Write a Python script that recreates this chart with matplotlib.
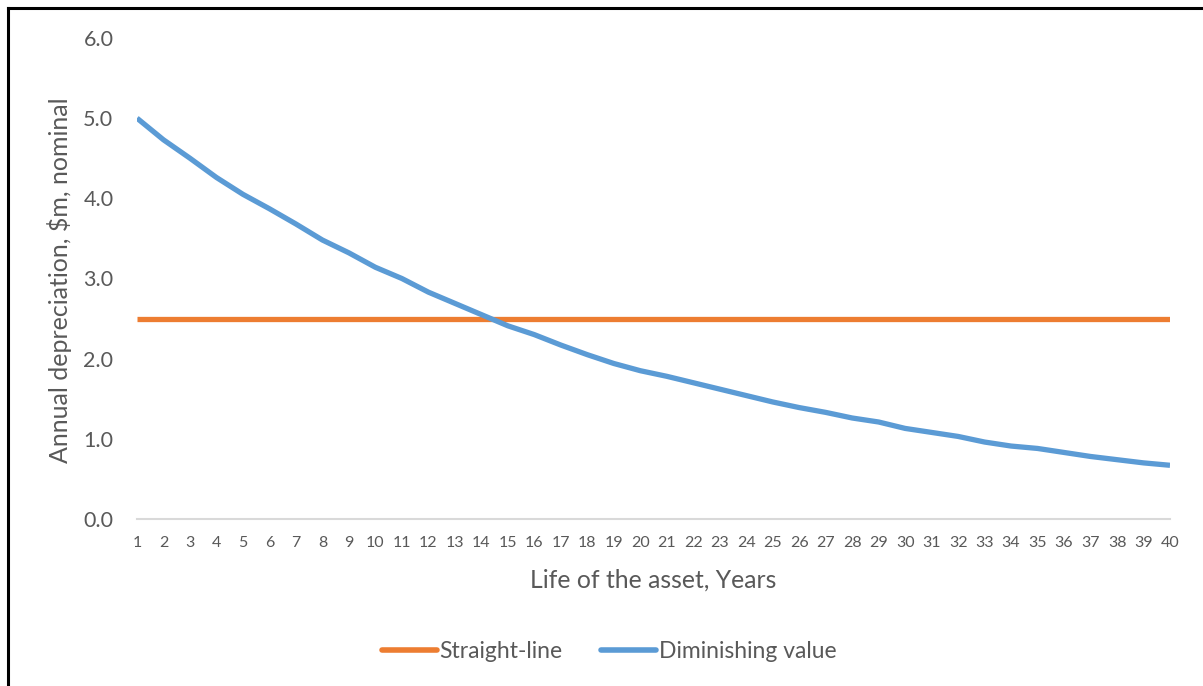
import matplotlib
matplotlib.use("Agg")
import matplotlib.pyplot as plt
from matplotlib.lines import Line2D

plt.rcParams["font.family"] = ["Lato", "DejaVu Sans"]

years = list(range(1, 41))
straight_line = [2.5] * 40
diminishing_value = [
    5.00, 4.73, 4.50, 4.26, 4.05, 3.87, 3.68, 3.48, 3.32, 3.14,
    3.00, 2.83, 2.69, 2.55, 2.41, 2.30, 2.17, 2.05, 1.94, 1.85,
    1.78, 1.70, 1.62, 1.54, 1.46, 1.39, 1.33, 1.26, 1.21, 1.13,
    1.08, 1.03, 0.96, 0.91, 0.88, 0.83, 0.78, 0.74, 0.70, 0.67,
]
y_ticks = [0.0, 1.0, 2.0, 3.0, 4.0, 5.0, 6.0]

ORANGE = "#ED7D31"
BLUE = "#5B9BD5"
TEXT = "#595959"

W, H = 1203, 686
fig = plt.figure(figsize=(W / 100, H / 100), dpi=100)
fig.patch.set_facecolor("white")

ax = fig.add_axes([137 / W, 1 - 519 / H, (1170 - 137) / W, (519 - 38) / H])

ax.plot(years, straight_line, color=ORANGE, lw=3.8, solid_capstyle="butt",
        label="Straight-line", zorder=3)
ax.plot(years, diminishing_value, color=BLUE, lw=3.8, solid_capstyle="butt",
        solid_joinstyle="round", label="Diminishing value", zorder=4)

ax.set_xlim(1, 40)
ax.set_ylim(0, 6)
ax.set_xticks(years)
ax.set_xticklabels([str(y) for y in years])
ax.set_yticks(y_ticks)
ax.set_yticklabels([f"{v:.1f}" for v in y_ticks])

for side in ("top", "right", "left"):
    ax.spines[side].set_visible(False)
ax.spines["bottom"].set_color("#D9D9D9")
ax.spines["bottom"].set_linewidth(1.5)
ax.spines["bottom"].set_zorder(1)

ax.tick_params(axis="x", length=0, pad=12, labelsize=11.5, labelcolor=TEXT)
ax.tick_params(axis="y", length=0, pad=17, labelsize=15.5, labelcolor=TEXT)

fig.text(60 / W, 1 - 280 / H, "Annual depreciation, $m, nominal",
         rotation=90, ha="center", va="center", fontsize=18, color=TEXT)
fig.text(653 / W, 1 - 580 / H, "Life of the asset, Years",
         ha="center", va="center", fontsize=17.8, color=TEXT)

handles = [
    Line2D([], [], color=ORANGE, lw=4, solid_capstyle="round"),
    Line2D([], [], color=BLUE, lw=4, solid_capstyle="round"),
]
leg = fig.legend(handles, ["Straight-line", "Diminishing value"],
                 loc="center", bbox_to_anchor=(609 / W, 1 - 652 / H),
                 ncol=2, frameon=False, fontsize=16.5, handlelength=2.4,
                 handletextpad=0.1, columnspacing=1.7, labelcolor=TEXT)

# outer frame: top and left edges
fig.add_artist(Line2D([8 / W, 1], [1 - 8 / H, 1 - 8 / H],
                      transform=fig.transFigure, color="black", lw=2.2))
fig.add_artist(Line2D([8 / W, 8 / W], [0, 1 - 8 / H],
                      transform=fig.transFigure, color="black", lw=2.2))

fig.savefig("out.png", dpi=100, facecolor="white")
